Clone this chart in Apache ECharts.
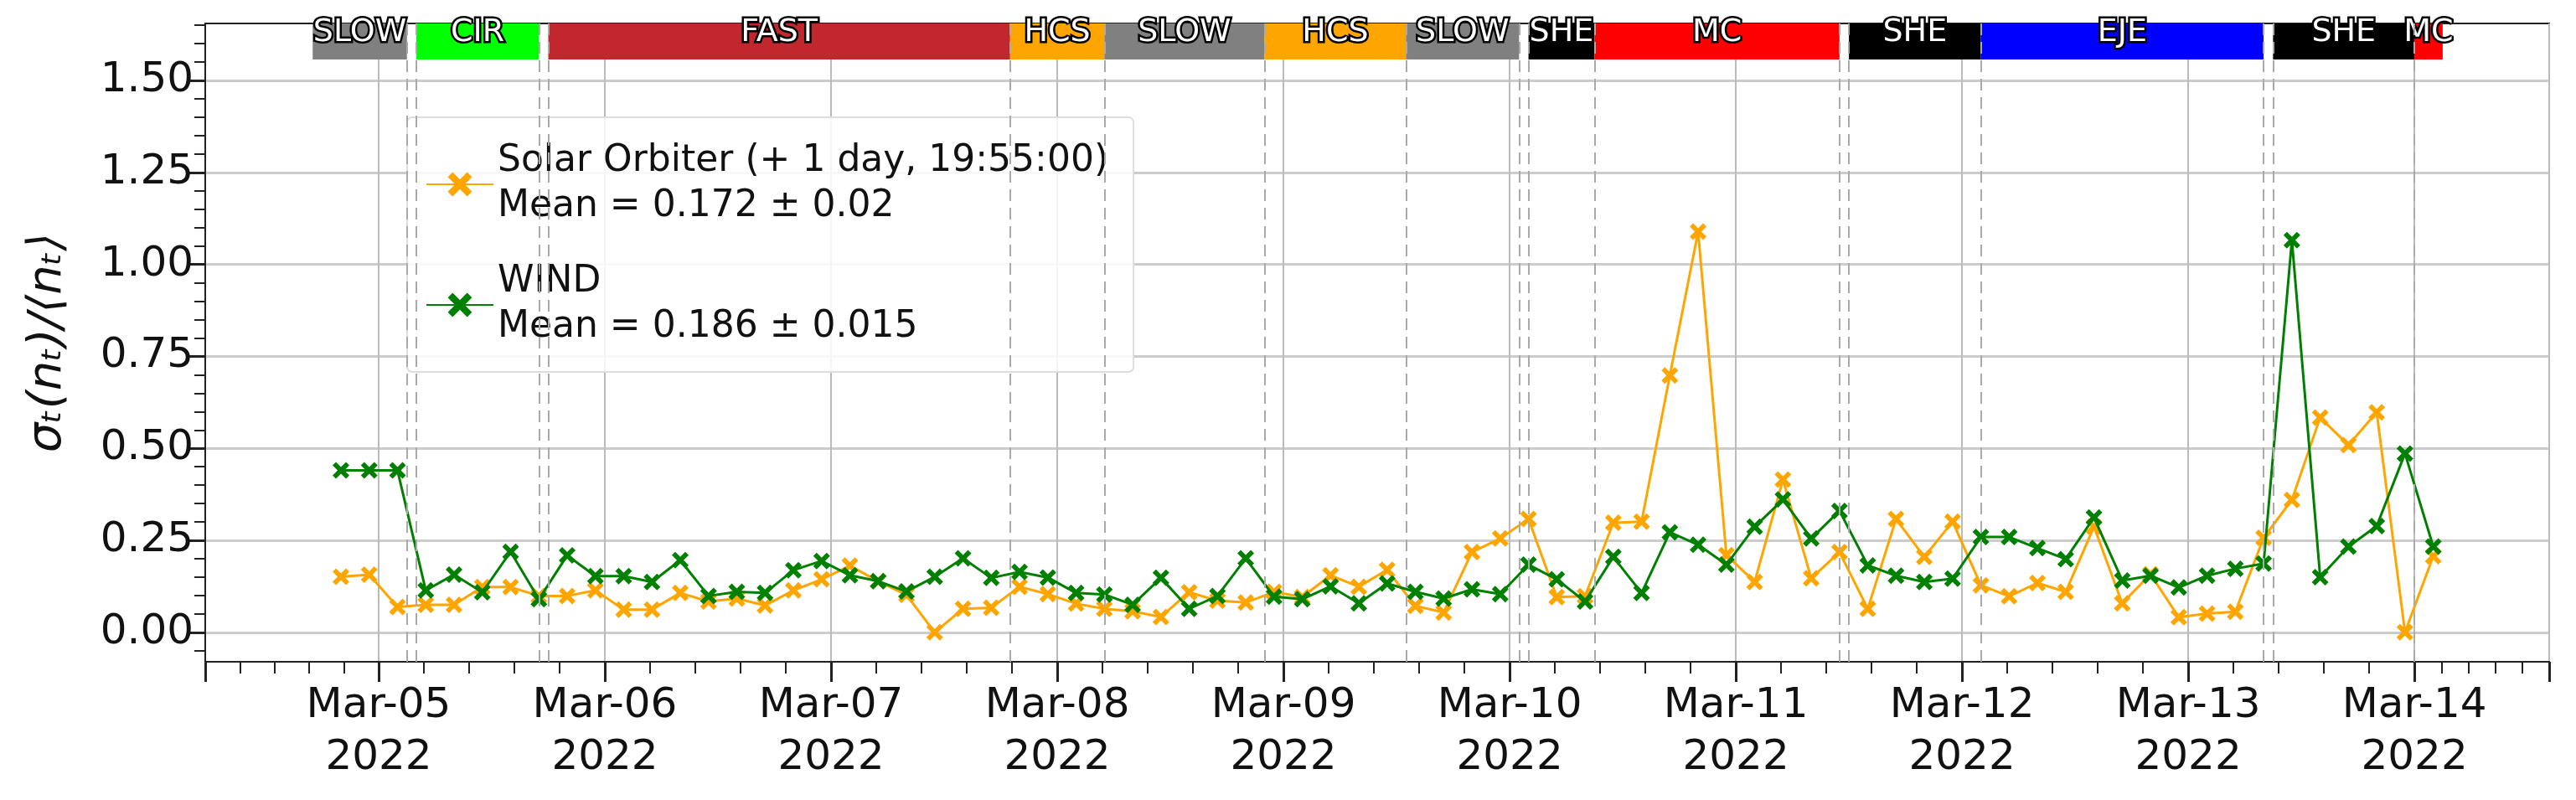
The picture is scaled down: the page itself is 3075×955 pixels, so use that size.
<!DOCTYPE html>
<html>
<head>
<meta charset="utf-8">
<script src="https://cdn.jsdelivr.net/npm/echarts@6/dist/echarts.min.js"></script>
<style>
html, body { margin: 0; padding: 0; background: #fff; }
#main { width: 3075px; height: 955px; }
</style>
</head>
<body>
<div id="main"></div>
<script>
// hours are counted from 2022-03-05 00:00, one point every 3 hours from Mar 4 20:00
var startHour = -4;
var stepHour = 3;
var solo = [0.151, 0.157, 0.069, 0.075, 0.075, 0.123, 0.123, 0.099, 0.099, 0.114,
    0.062, 0.062, 0.107, 0.084, 0.092, 0.073, 0.114, 0.144, 0.181, 0.139,
    0.102, 0.0, 0.064, 0.067, 0.124, 0.104, 0.078, 0.064, 0.057, 0.042,
    0.109, 0.086, 0.081, 0.110, 0.096, 0.155, 0.124, 0.170, 0.072, 0.054,
    0.218, 0.255, 0.308, 0.096, 0.098, 0.298, 0.301, 0.698, 1.089, 0.210,
    0.137, 0.415, 0.147, 0.218, 0.064, 0.308, 0.205, 0.301, 0.128, 0.098,
    0.134, 0.110, 0.287, 0.079, 0.158, 0.041, 0.051, 0.056, 0.257, 0.360,
    0.584, 0.509, 0.598, 0.0, 0.207];
var wind = [0.44, 0.44, 0.44, 0.114, 0.157, 0.109, 0.219, 0.090, 0.209, 0.153,
    0.153, 0.137, 0.196, 0.099, 0.110, 0.107, 0.169, 0.194, 0.155, 0.139,
    0.111, 0.151, 0.201, 0.148, 0.164, 0.149, 0.107, 0.103, 0.075, 0.148,
    0.064, 0.099, 0.201, 0.097, 0.090, 0.125, 0.079, 0.133, 0.110, 0.092,
    0.117, 0.104, 0.184, 0.144, 0.084, 0.205, 0.107, 0.272, 0.238, 0.184,
    0.287, 0.361, 0.255, 0.330, 0.182, 0.154, 0.137, 0.146, 0.259, 0.259,
    0.229, 0.199, 0.312, 0.141, 0.154, 0.122, 0.154, 0.173, 0.187, 1.066,
    0.150, 0.233, 0.289, 0.486, 0.233];
// solar wind structure bands (start hour, end hour)
var bandNames = ['SLOW', 'CIR', 'FAST', 'HCS', 'SLOW', 'HCS', 'SLOW', 'SHE', 'MC', 'SHE', 'EJE', 'SHE', 'MC'];
var bandStart = [-7, 4, 18, 67, 77, 94, 109, 122, 129, 156, 170, 201, 216];
var bandEnd = [3, 17, 67, 77, 94, 109, 121, 129, 155, 170, 200, 216, 219];
var bandColors = ['#808080', '#00ff00', '#c0282d', '#ffa500', '#808080', '#ffa500', '#808080', '#000000', '#ff0000', '#000000', '#0000ff', '#000000', '#ff0000'];
var boundaryHours = [3, 4, 17, 18, 67, 77, 94, 109, 121, 122, 129, 155, 156, 170, 200, 201, 216];
var yTicks = [0, 0.25, 0.5, 0.75, 1.0, 1.25, 1.5];
var yMinorTicks = [-0.05, 0.05, 0.1, 0.15, 0.2, 0.3, 0.35, 0.4, 0.45, 0.55, 0.6, 0.65, 0.7, 0.8, 0.85, 0.9, 0.95,
    1.05, 1.1, 1.15, 1.2, 1.3, 1.35, 1.4, 1.45, 1.55, 1.6, 1.65];

var t0 = new Date(2022, 2, 5).getTime();
var H = 3600 * 1000;
function toTime(h) { return t0 + h * H; }

var soloData = [], windData = [];
for (var i = 0; i < solo.length; i++) {
    soloData.push([toTime(startHour + i * stepHour), solo[i]]);
    windData.push([toTime(startHour + i * stepHour), wind[i]]);
}

var yMin = -0.08, yMax = 1.655;
var bandTop = 1.66, bandBottom = 1.557;
var areas = [];
for (var b = 0; b < bandNames.length; b++) {
    areas.push([
        { name: bandNames[b], xAxis: toTime(bandStart[b]), yAxis: bandBottom, itemStyle: { color: bandColors[b], opacity: 1 } },
        { xAxis: toTime(bandEnd[b]), yAxis: bandTop }
    ]);
}
var lines = [];
for (var k = 0; k < boundaryHours.length; k++) {
    lines.push({ xAxis: toTime(boundaryHours[k]) });
}

var xPath = 'path://M2,0 L5,3 L8,0 L10,2 L7,5 L10,8 L8,10 L5,7 L2,10 L0,8 L3,5 L0,2 Z';
var font = 'DejaVu Sans';
var nameSolo = 'Solar Orbiter (+ 1 day, 19:55:00)\nMean = 0.172 ± 0.02';
var nameWind = 'WIND\nMean = 0.186 ± 0.015';

var myChart = echarts.init(document.getElementById('main'));
var option = {
    animation: false,
    backgroundColor: '#fff',
    textStyle: { fontFamily: font },
    grid: { left: 245, right: 32, top: 28, bottom: 165, show: true, borderColor: '#222', borderWidth: 2 },
    legend: {
        left: 486, top: 140,
        orient: 'vertical',
        padding: [26, 30, 26, 22],
        itemGap: 36,
        itemWidth: 80, itemHeight: 36,
        backgroundColor: 'rgba(255,255,255,0.85)',
        borderColor: '#ddd', borderWidth: 2, borderRadius: 6,
        textStyle: { fontSize: 44, lineHeight: 54, color: '#111', fontFamily: font },
        data: [{ name: nameSolo }, { name: nameWind }]
    },
    xAxis: {
        type: 'time',
        min: toTime(-18.4),
        max: toTime(230.3),
        minInterval: 24 * H,
        maxInterval: 24 * H,
        axisLine: { onZero: false, lineStyle: { color: '#222', width: 2 } },
        axisTick: { length: 24, lineStyle: { color: '#222', width: 3 } },
        minorTick: { show: true, splitNumber: 5, length: 14, lineStyle: { color: '#222', width: 2 } },
        splitLine: { show: true, lineStyle: { color: '#bbb', width: 2 } },
        axisLabel: {
            fontSize: 50, lineHeight: 62, color: '#111', margin: 22, fontFamily: font,
            formatter: function (v) {
                var d = new Date(v);
                var dd = ('0' + d.getDate()).slice(-2);
                return 'Mar-' + dd + '\n' + d.getFullYear();
            }
        }
    },
    yAxis: [
        {
            type: 'value',
            min: yMin, max: yMax,
            name: 'σₜ(nₜ)/⟨nₜ⟩',
            nameLocation: 'middle',
            nameGap: 160,
            nameTextStyle: { fontSize: 56, color: '#111', fontStyle: 'italic', fontFamily: font },
            axisLine: { show: true, lineStyle: { color: '#222', width: 2 } },
            axisTick: { show: true, length: 22, customValues: yTicks, lineStyle: { color: '#222', width: 3 } },
            splitLine: { show: true, lineStyle: { color: '#ccc', width: 3 } },
            axisLabel: {
                fontSize: 50, color: '#111', margin: 14, customValues: yTicks, fontFamily: font,
                formatter: function (v) { return v.toFixed(2); }
            }
        },
        {
            type: 'value',
            position: 'left',
            min: yMin, max: yMax,
            axisLine: { show: false },
            axisTick: { show: true, length: 13, customValues: yMinorTicks, lineStyle: { color: '#222', width: 2 } },
            splitLine: { show: false },
            axisLabel: { show: false }
        }
    ],
    series: [
        {
            name: nameSolo,
            type: 'line',
            data: soloData,
            symbol: xPath, symbolSize: 20,
            lineStyle: { color: '#ffa500', width: 3 },
            itemStyle: { color: '#ffa500' },
            z: 3
        },
        {
            name: nameWind,
            type: 'line',
            data: windData,
            symbol: xPath, symbolSize: 20,
            lineStyle: { color: '#008000', width: 3 },
            itemStyle: { color: '#008000' },
            z: 4
        },
        {
            name: 'bands',
            type: 'line',
            data: [],
            silent: true,
            markArea: {
                silent: true,
                label: {
                    show: true, position: 'inside', color: '#fff', fontSize: 38, fontFamily: font,
                    textBorderColor: '#000', textBorderWidth: 5, offset: [0, -10]
                },
                data: areas
            },
            markLine: {
                silent: true,
                symbol: 'none',
                label: { show: false },
                lineStyle: { color: '#aaa', type: [14, 8], width: 2 },
                data: lines
            },
            z: 1
        }
    ]
};
myChart.setOption(option);
</script>
</body>
</html>
